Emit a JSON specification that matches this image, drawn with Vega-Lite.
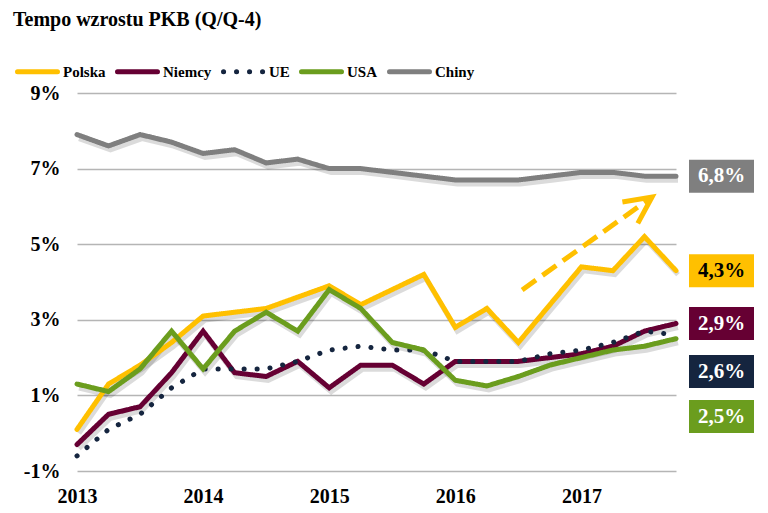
{
  "$schema": "https://vega.github.io/schema/vega-lite/v6.json",
  "width": 599,
  "height": 378,
  "autosize": {"type": "none"},
  "padding": {"left": 77, "top": 93, "right": 92, "bottom": 42},
  "background": "white",
  "config": {
    "font": "Liberation Serif",
    "view": {"stroke": null},
    "legend": {
      "orient": "none",
      "legendX": -62,
      "legendY": -44,
      "direction": "horizontal",
      "symbolType": "stroke",
      "symbolSize": 1600,
      "symbolStrokeWidth": 5,
      "labelFont": "Liberation Serif",
      "labelFontSize": 15,
      "labelFontWeight": "bold",
      "labelColor": "#000",
      "labelOffset": 3,
      "columnPadding": 1
    }
  },
  "title": {
    "text": "Tempo wzrostu PKB (Q/Q-4)",
    "anchor": "start",
    "frame": "group",
    "dx": -64,
    "offset": 19,
    "fontSize": 20,
    "fontWeight": "bold",
    "font": "Liberation Serif",
    "color": "#000"
  },
  "datasets": {
    "pkb": [
      {"t": 2013.00, "Polska": 0.1, "Niemcy": -0.3, "UE": -0.6, "USA": 1.3, "Chiny": 7.9},
      {"t": 2013.25, "Polska": 1.3, "Niemcy": 0.5, "UE": 0.1, "USA": 1.1, "Chiny": 7.6},
      {"t": 2013.50, "Polska": 1.8, "Niemcy": 0.7, "UE": 0.5, "USA": 1.7, "Chiny": 7.9},
      {"t": 2013.75, "Polska": 2.4, "Niemcy": 1.6, "UE": 1.2, "USA": 2.7, "Chiny": 7.7},
      {"t": 2014.00, "Polska": 3.1, "Niemcy": 2.7, "UE": 1.7, "USA": 1.7, "Chiny": 7.4},
      {"t": 2014.25, "Polska": 3.2, "Niemcy": 1.6, "UE": 1.7, "USA": 2.7, "Chiny": 7.5},
      {"t": 2014.50, "Polska": 3.3, "Niemcy": 1.5, "UE": 1.7, "USA": 3.2, "Chiny": 7.15},
      {"t": 2014.75, "Polska": 3.6, "Niemcy": 1.9, "UE": 1.9, "USA": 2.7, "Chiny": 7.25},
      {"t": 2015.00, "Polska": 3.9, "Niemcy": 1.2, "UE": 2.2, "USA": 3.8, "Chiny": 7.0},
      {"t": 2015.25, "Polska": 3.4, "Niemcy": 1.8, "UE": 2.3, "USA": 3.3, "Chiny": 7.0},
      {"t": 2015.50, "Polska": 3.8, "Niemcy": 1.8, "UE": 2.2, "USA": 2.4, "Chiny": 6.9},
      {"t": 2015.75, "Polska": 4.2, "Niemcy": 1.3, "UE": 2.2, "USA": 2.2, "Chiny": 6.8},
      {"t": 2016.00, "Polska": 2.8, "Niemcy": 1.9, "UE": 1.9, "USA": 1.4, "Chiny": 6.7},
      {"t": 2016.25, "Polska": 3.3, "Niemcy": 1.9, "UE": 1.9, "USA": 1.25, "Chiny": 6.7},
      {"t": 2016.50, "Polska": 2.4, "Niemcy": 1.9, "UE": 1.9, "USA": 1.5, "Chiny": 6.7},
      {"t": 2016.75, "Polska": 3.4, "Niemcy": 2.0, "UE": 2.1, "USA": 1.8, "Chiny": 6.8},
      {"t": 2017.00, "Polska": 4.4, "Niemcy": 2.1, "UE": 2.2, "USA": 2.0, "Chiny": 6.9},
      {"t": 2017.25, "Polska": 4.3, "Niemcy": 2.3, "UE": 2.4, "USA": 2.2, "Chiny": 6.9},
      {"t": 2017.50, "Polska": 5.2, "Niemcy": 2.7, "UE": 2.7, "USA": 2.3, "Chiny": 6.8},
      {"t": 2017.75, "Polska": 4.3, "Niemcy": 2.9, "UE": 2.6, "USA": 2.5, "Chiny": 6.8}
    ],
    "etykiety": [
      {"kraj": "Chiny", "tekst": "6,8%", "t": 2017.75, "ly": 6.8},
      {"kraj": "Polska", "tekst": "4,3%", "t": 2017.75, "ly": 4.3},
      {"kraj": "Niemcy", "tekst": "2,9%", "t": 2017.75, "ly": 2.9},
      {"kraj": "UE", "tekst": "2,6%", "t": 2017.75, "ly": 1.63},
      {"kraj": "USA", "tekst": "2,5%", "t": 2017.75, "ly": 0.44}
    ],
    "strzalka": [
      {"pt": "start", "ax": 2016.53, "ay": 3.79},
      {"pt": "end", "ax": 2017.56, "ay": 6.25}
    ]
  },
  "layer": [
    {
      "data": {"name": "pkb"},
      "transform": [
        {"fold": ["Polska", "Niemcy", "UE", "USA", "Chiny"], "as": ["kraj", "v"]},
        {"filter": "datum.kraj !== 'UE'"}
      ],
      "mark": {"type": "line", "color": "#000", "opacity": 0.14, "strokeWidth": 5, "xOffset": 2, "yOffset": 4},
      "encoding": {
        "x": {"field": "t", "type": "quantitative"},
        "y": {"field": "v", "type": "quantitative"},
        "detail": {"field": "kraj"}
      }
    },
    {
      "data": {"name": "pkb"},
      "transform": [
        {"fold": ["Polska", "Niemcy", "UE", "USA", "Chiny"], "as": ["kraj", "v"]}
      ],
      "mark": {"type": "line", "strokeWidth": 5, "strokeCap": "round", "strokeJoin": "miter"},
      "encoding": {
        "x": {
          "field": "t",
          "type": "quantitative",
          "scale": {"domain": [2013, 2017.75], "nice": false, "zero": false},
          "axis": {
            "title": null,
            "values": [2013, 2014, 2015, 2016, 2017],
            "format": "d",
            "grid": false,
            "domain": false,
            "ticks": false,
            "labelFlush": false,
            "labelPadding": 15,
            "labelFont": "Liberation Serif",
            "labelFontSize": 20,
            "labelFontWeight": "bold",
            "labelColor": "#000"
          }
        },
        "y": {
          "field": "v",
          "type": "quantitative",
          "scale": {"domain": [-1, 9], "nice": false, "zero": false},
          "axis": {
            "title": null,
            "values": [-1, 1, 3, 5, 7, 9],
            "labelExpr": "datum.value + '%'",
            "domain": false,
            "ticks": false,
            "gridColor": "#b5b5b5",
            "gridWidth": 1.3,
            "labelPadding": 17,
            "labelFont": "Liberation Serif",
            "labelFontSize": 20,
            "labelFontWeight": "bold",
            "labelColor": "#000"
          }
        },
        "color": {
          "field": "kraj",
          "type": "nominal",
          "scale": {
            "domain": ["Polska", "Niemcy", "UE", "USA", "Chiny"],
            "range": ["#FFC000", "#660033", "#15253F", "#6B9D1E", "#7F7F7F"]
          },
          "legend": {"title": null, "encode": {"symbols": {"update": {"strokeCap": {"value": "round"}}}}}
        },
        "strokeDash": {
          "field": "kraj",
          "type": "nominal",
          "scale": {
            "domain": ["Polska", "Niemcy", "UE", "USA", "Chiny"],
            "range": [[1, 0], [1, 0], [0.1, 12.9], [1, 0], [1, 0]]
          },
          "legend": {"title": null, "encode": {"symbols": {"update": {"strokeCap": {"value": "round"}}}}}
        }
      }
    },
    {
      "data": {"name": "strzalka"},
      "mark": {"type": "line", "color": "#FFC000", "strokeWidth": 5, "strokeDash": [17, 8], "strokeCap": "butt"},
      "encoding": {
        "x": {"field": "ax", "type": "quantitative"},
        "y": {"field": "ay", "type": "quantitative"}
      }
    },
    {
      "data": {"name": "strzalka"},
      "transform": [{"filter": "datum.pt === 'end'"}],
      "mark": {"type": "point", "shape": "M-1,-0.49L0,0L-1,0.49", "size": 2916, "filled": false, "stroke": "#FFC000", "strokeWidth": 5, "angle": -35.6, "opacity": 1, "strokeCap": "butt"},
      "encoding": {
        "x": {"field": "ax", "type": "quantitative"},
        "y": {"field": "ay", "type": "quantitative"}
      }
    },
    {
      "data": {"name": "etykiety"},
      "mark": {"type": "point", "shape": "M-1,-0.508H1V0.508H-1Z", "size": 4225, "filled": true, "opacity": 1, "strokeWidth": 0, "xOffset": 45.5},
      "encoding": {
        "x": {"field": "t", "type": "quantitative"},
        "y": {"field": "ly", "type": "quantitative"},
        "color": {"field": "kraj", "type": "nominal"}
      }
    },
    {
      "data": {"name": "etykiety"},
      "mark": {"type": "text", "xOffset": 45.5, "font": "Liberation Serif", "fontWeight": "bold", "fontSize": 21, "align": "center", "baseline": "middle"},
      "encoding": {
        "x": {"field": "t", "type": "quantitative"},
        "y": {"field": "ly", "type": "quantitative"},
        "text": {"field": "tekst"},
        "color": {"condition": {"test": "datum.kraj === 'Polska'", "value": "#000"}, "value": "#fff"}
      }
    }
  ]
}
